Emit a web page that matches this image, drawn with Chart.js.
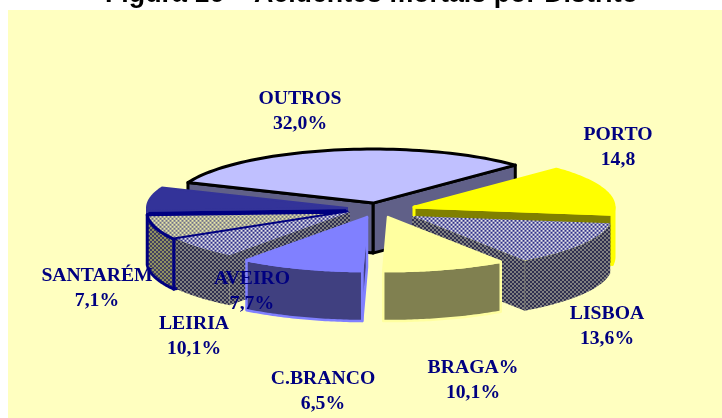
<!DOCTYPE html>
<html><head><meta charset="utf-8">
<style>html,body{margin:0;padding:0;background:#fff;overflow:hidden}
#wrap{position:absolute;left:0;top:-21px;width:722px;height:439px}</style>
<script src="https://cdn.jsdelivr.net/npm/chart.js@4"></script>
</head><body><div id="wrap"><canvas id="c" width="722" height="439"></canvas></div>
<script>
const titleText = 'Figura 16 – Acidentes mortais por Distrito';
const districts = ['OUTROS','PORTO','LISBOA','BRAGA','LEIRIA','C.BRANCO','AVEIRO','SANTARÉM'];
const percents = [32.0,14.8,13.6,10.1,10.1,6.5,7.7,7.1];
const labelHeads = ['OUTROS','PORTO','LISBOA','BRAGA%','LEIRIA','C.BRANCO','AVEIRO','SANTARÉM'];
const labelValues = ['32,0%','14,8','13,6%','10,1%','10,1%','6,5%','7,7%','7,1%'];

// layout and style, separate from the data
const labelX = [300,618,607,473,194,323,252,97];
const labelY = [99,135,314,368,324,379,279,276];
const sliceDX = [-4,37,35,11,-10,-27,-30,-30];
const sliceDY = [-7,-3,6,7,7,2,2,-2];
const pieShiftX = 5.5;
const squash = 0.27, depth = 50, offTop = 21;
const drawOrder = [0,7,1,6,5,2,4,3];

function checker(a,b,n){
  const t=document.createElement('canvas');t.width=t.height=n*2;
  const g=t.getContext('2d');g.fillStyle=a;g.fillRect(0,0,n*2,n*2);
  g.fillStyle=b;g.fillRect(0,0,n,n);g.fillRect(n,n,n,n);
  const ctx=document.createElement('canvas').getContext('2d');
  return ctx.createPattern(t,'repeat');
}
function flat(p){p.setTransform(new DOMMatrix().scale(1,1/squash));return p;}
const topFill = ['#C0C0FF','#FFFF00',flat(checker('#E4E4E8','#30308A',2)),'#FFFFA0','#8080FF',
  flat(checker('#E4E4E8','#30308A',2)),flat(checker('#E8E8A8','#70708A',2)),'#333399'];
const wallFill = ['#606088','#808000',checker('#808080','#303050',2),'#808050','#404080',
  checker('#808080','#303050',2),checker('#909060','#404060',2),'#000080'];
const edge = ['#000000','#FFFF00',null,'#FFFFA0','#8080FF',null,'#000080','#333399'];
const edgeW = [3,3,0,2.5,2.5,0,3,2];

const pie3d = {
  id:'pie3d',
  beforeDraw(chart){
    const c=chart.ctx;c.save();c.fillStyle='#FFFFC0';
    c.fillRect(8,10+offTop,chart.width-8,chart.height-10-offTop);c.restore();
  },
  beforeDatasetsDraw(chart){
    const c=chart.ctx, arcs=chart.getDatasetMeta(0).data;
    drawOrder.forEach(i=>{
      const arc=arcs[i], a=arc.startAngle, b=arc.endAngle, R=arc.outerRadius, cy=arc.y, cx=arc.x+pieShiftX;
      const dx=sliceDX[i], dy=sliceDY[i];
      const P=(t,r,z)=>[cx+dx+r*Math.cos(t), cy+dy+squash*r*Math.sin(t)+z];
      const poly=(pts,fill)=>{
        c.beginPath();pts.forEach((p,k)=>k?c.lineTo(p[0],p[1]):c.moveTo(p[0],p[1]));c.closePath();
        if(fill){c.fillStyle=wallFill[i];c.fill();}
        if(fill&&edge[i]){c.strokeStyle=edge[i];c.lineWidth=edgeW[i];c.lineJoin='round';c.stroke();}
      };
      const radial=t=>[P(t,0,0),P(t,R,0),P(t,R,depth),P(t,0,depth)];
      poly(radial(b),Math.cos(b)>0);
      poly(radial(a),Math.cos(a)<0);
      // outer wall: visible where the rim faces the viewer
      [[a,b],[a-2*Math.PI,b-2*Math.PI],[a+2*Math.PI,b+2*Math.PI]].forEach(([s,f])=>{
        const lo=Math.max(s,0), hi=Math.min(f,Math.PI);
        if(hi<=lo) return;
        const pts=[];
        for(let k=0;k<=40;k++) pts.push(P(lo+(hi-lo)*k/40,R,0));
        for(let k=40;k>=0;k--) pts.push(P(lo+(hi-lo)*k/40,R,depth));
        poly(pts,true);
      });
      if(!edge[i]){ // seam between the rim and the front face
        c.strokeStyle='#707070';c.lineWidth=1;
        const q=P(b,R,0),q2=P(b,R,depth);
        if(Math.cos(b)>0){c.beginPath();c.moveTo(q[0],q[1]);c.lineTo(q2[0],q2[1]);c.stroke();}
      }
      // top face: the library's own arc, seen in perspective
      c.save();
      c.translate(pieShiftX+dx,cy+dy);c.scale(1,squash);c.translate(0,-cy);
      arc.draw(c);
      c.restore();
      if(edge[i]){
        c.beginPath();
        const p0=P(a,0,0);c.moveTo(p0[0],p0[1]);
        for(let k=0;k<=60;k++){const q=P(a+(b-a)*k/60,R,0);c.lineTo(q[0],q[1]);}
        c.closePath();c.strokeStyle=edge[i];c.lineWidth=edgeW[i];c.lineJoin='round';c.stroke();
      }
    });
    return false;
  },
  afterDraw(chart){
    const c=chart.ctx;c.save();
    c.font='bold 19.7px "Liberation Serif"';c.fillStyle='#000080';c.textAlign='center';c.textBaseline='middle';
    labelHeads.forEach((h,i)=>{
      c.fillText(h,labelX[i],labelY[i]+offTop);
      c.fillText(labelValues[i],labelX[i],labelY[i]+offTop+25);
    });
    c.restore();
  }
};

new Chart(document.getElementById('c'),{
  type:'pie',
  data:{labels:districts,datasets:[{
    data:percents,
    backgroundColor:topFill,
    borderWidth:0,
    radius:200
  }]},
  options:{
    responsive:false,animation:false,
    rotation:292.3,
    layout:{padding:{left:21,right:0,top:0,bottom:9}},
    plugins:{
      legend:{display:false},tooltip:{enabled:false},
      title:{display:true,text:titleText,color:'#000',padding:{top:0,bottom:0},
        font:{family:'"Liberation Sans"',size:26.8,weight:'bold'}}
    }
  },
  plugins:[pie3d]
});
</script></body></html>
